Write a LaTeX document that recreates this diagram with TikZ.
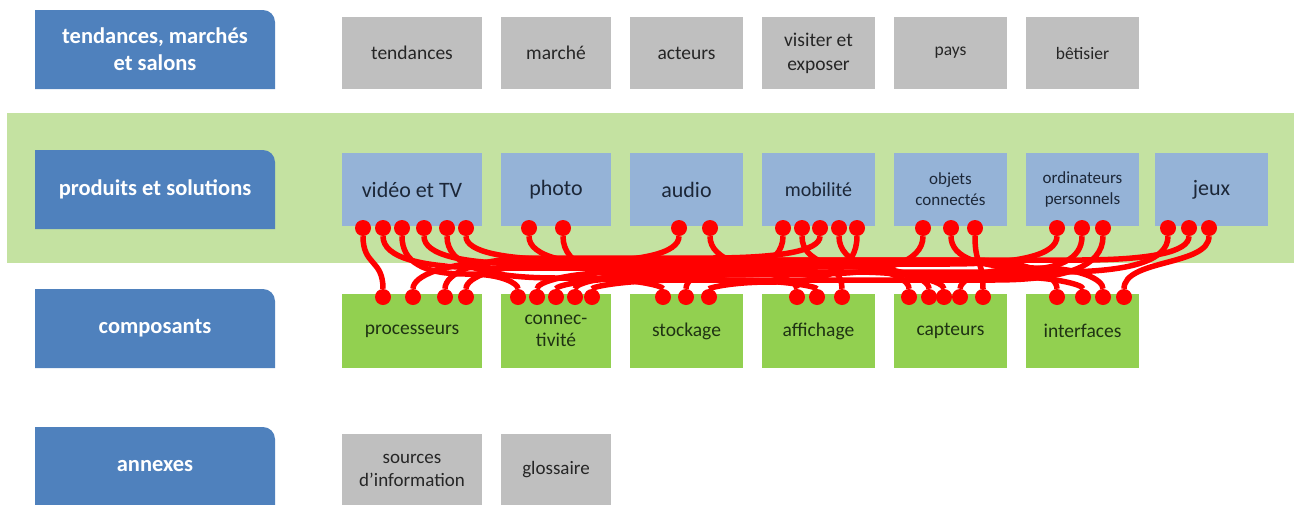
\documentclass[tikz,border=0pt]{standalone}
\usepackage{fontspec}
\setmainfont{Carlito}
\usetikzlibrary{positioning,calc}
\definecolor{hdr}{HTML}{4F81BD}
\definecolor{topic}{HTML}{BFBFBF}
\definecolor{prod}{HTML}{95B3D7}
\definecolor{band}{HTML}{C4E2A1}
\definecolor{comp}{HTML}{92D050}
\definecolor{lnk}{HTML}{FF0000}
\definecolor{ink}{HTML}{262626}
\definecolor{pink}{HTML}{1C2738}
\definecolor{cink}{HTML}{1F3313}
\tikzset{
  hdrtxt/.style={text=white, align=center, font=\bfseries\fontsize{22.5}{27}\selectfont},
  box/.style={outer sep=0pt, inner sep=2pt, align=center},
  tbox/.style={box, fill=topic, text=ink, minimum height=72pt, font=\fontsize{19.5}{24}\selectfont},
  pbox/.style={box, fill=prod, text=pink, minimum height=73pt, font=\fontsize{22}{26}\selectfont},
  cbox/.style={box, fill=comp, text=cink, minimum height=74pt, font=\fontsize{19.5}{22}\selectfont},
  dot/.style={circle, fill=lnk, inner sep=0pt, minimum size=16pt},
  link/.style={draw=lnk, line width=5.5pt}}
% blue heading: name, top y, text (only the top right corner is round)
\newcommand\hdrbox[3]{%
  \fill[hdr] (35,#2+79) -- (35,#2) -- (263,#2) .. controls (269.6,#2) and (275,#2+5.4) .. (275,#2+12) -- (275,#2+79) -- cycle;
  \node[hdrtxt] (#1) at (155,#2+39.5) {#3};}

\begin{document}
\begin{tikzpicture}[x=1pt, y=-1pt]
\useasboundingbox (0,0) rectangle (1294,504);
\fill[band] (7,113) rectangle (1294,263);

\hdrbox{hten}{10}{tendances, marchés\\et salons}
\hdrbox{hprd}{150}{produits et solutions}
\hdrbox{hcmp}{289}{composants}
\hdrbox{hann}{427}{annexes}

% tendances
\node[tbox, minimum width=140pt] (tnd) at (412,53) {tendances};
\node[tbox, minimum width=110pt, right=19pt of tnd] (mkt) {marché};
\node[tbox, minimum width=113pt, right=19pt of mkt] (act) {acteurs};
\node[tbox, minimum width=113pt, right=19pt of act] (vis) {visiter et\\exposer};
\node[tbox, minimum width=113pt, right=19pt of vis, font=\fontsize{17.5}{21}\selectfont] (pay) {pays};
\node[tbox, minimum width=113pt, right=19pt of pay, font=\fontsize{17.5}{21}\selectfont] (bet) {bêtisier};

% produits
\node[pbox, minimum width=140pt] (vid) at (412,189.5) {vidéo et TV};
\node[pbox, minimum width=110pt, right=19pt of vid] (pho) {photo};
\node[pbox, minimum width=113pt, right=19pt of pho] (aud) {audio};
\node[pbox, minimum width=113pt, right=19pt of aud, font=\fontsize{20}{24}\selectfont] (mob) {mobilité};
\node[pbox, minimum width=113pt, right=19pt of mob, font=\fontsize{17}{21}\selectfont] (obj) {objets\\connectés};
\node[pbox, minimum width=113pt, right=19pt of obj, font=\fontsize{17}{21}\selectfont] (ord) {ordinateurs\\personnels};
\node[pbox, minimum width=113pt, right=16pt of ord] (jeu) {jeux};

% composants
\node[cbox, minimum width=140pt] (pro) at (412,331) {processeurs};
\node[cbox, minimum width=110pt, right=19pt of pro] (con) {connec-\\tivité};
\node[cbox, minimum width=113pt, right=19pt of con] (sto) {stockage};
\node[cbox, minimum width=113pt, right=19pt of sto] (aff) {affichage};
\node[cbox, minimum width=113pt, right=19pt of aff] (cap) {capteurs};
\node[cbox, minimum width=113pt, right=19pt of cap] (itf) {interfaces};

% annexes
\node[tbox, minimum width=140pt, font=\fontsize{19}{23}\selectfont] (src) at (412,470) {sources\\d’information};
\node[tbox, minimum width=110pt, right=19pt of src, font=\fontsize{19}{23}\selectfont] (glo) {glossaire};

% plugs
\foreach \n/\x in {v1/363, v2/383, v3/402, v4/424, v5/447, v6/466, p1/529, p2/563,
    a1/679, a2/710, m1/783, m2/802, m3/820, m4/839, m5/857, o1/923, o2/951, o3/975,
    pc1/1057, pc2/1082, pc3/1103, j1/1168, j2/1189, j3/1209}
  \node[dot] (\n) at (\x,228) {};
\foreach \n/\x in {pr1/383, pr2/413, pr3/445, pr4/466, cn1/518, cn2/537, cn3/556, cn4/575, cn5/592,
    st1/663, st2/686, st3/709, af1/797, af2/817, af3/842,
    ca1/909, ca2/929, ca3/944, ca4/960, ca5/983, in1/1057, in2/1083, in3/1103, in4/1124}
  \node[dot] (\n) at (\x,297) {};

% wires through the bundle
\foreach \a/\b/\h/\s [evaluate=\s as \t using -\s] in {
    v2/af1/40/1, v3/cn1/46/1, v4/ca1/36/1, v5/st1/50/1, v6/in1/32/1,
    p1/ca2/38/1, p2/af2/52/1, a2/ca3/44/1, m4/in2/48/1, o2/in3/40/1,
    a1/pr2/34/-1, m1/cn3/50/-1, m3/pr3/30/-1, m5/st3/54/-1, o1/cn4/46/-1,
    pc1/pr4/36/-1, pc2/ca4/42/-1, pc3/cn5/52/-1, j1/cn2/44/-1, j2/st2/32/-1}
  \draw[link] let \p1=(\a), \p2=(\b),
      \n1={min(110,0.55*abs(\x2-\x1))}, \n2={min(90,0.42*abs(\x2-\x1))} in
    (\a) .. controls ($(\a)+(0,0.75*\h)$) and ($(\a)+(\s*0.35*\n1,\h)$) .. ($(\a)+(\s*\n1,\h)$)
    -- ($(\b)+(\t*\n2,\h-69)$) .. controls ($(\b)+(\t*0.35*\n2,\h-69)$) and ($(\b)+(0,0.6*\h-41.4)$) .. (\b);
% short wires
\foreach \a/\b in {v1/pr1, m2/af3, o3/ca5, j3/in4}
  \draw[link] (\a) .. controls ($(\a)+(0,38)$) and ($(\b)+(0,-38)$) .. (\b);
\end{tikzpicture}
\end{document}
